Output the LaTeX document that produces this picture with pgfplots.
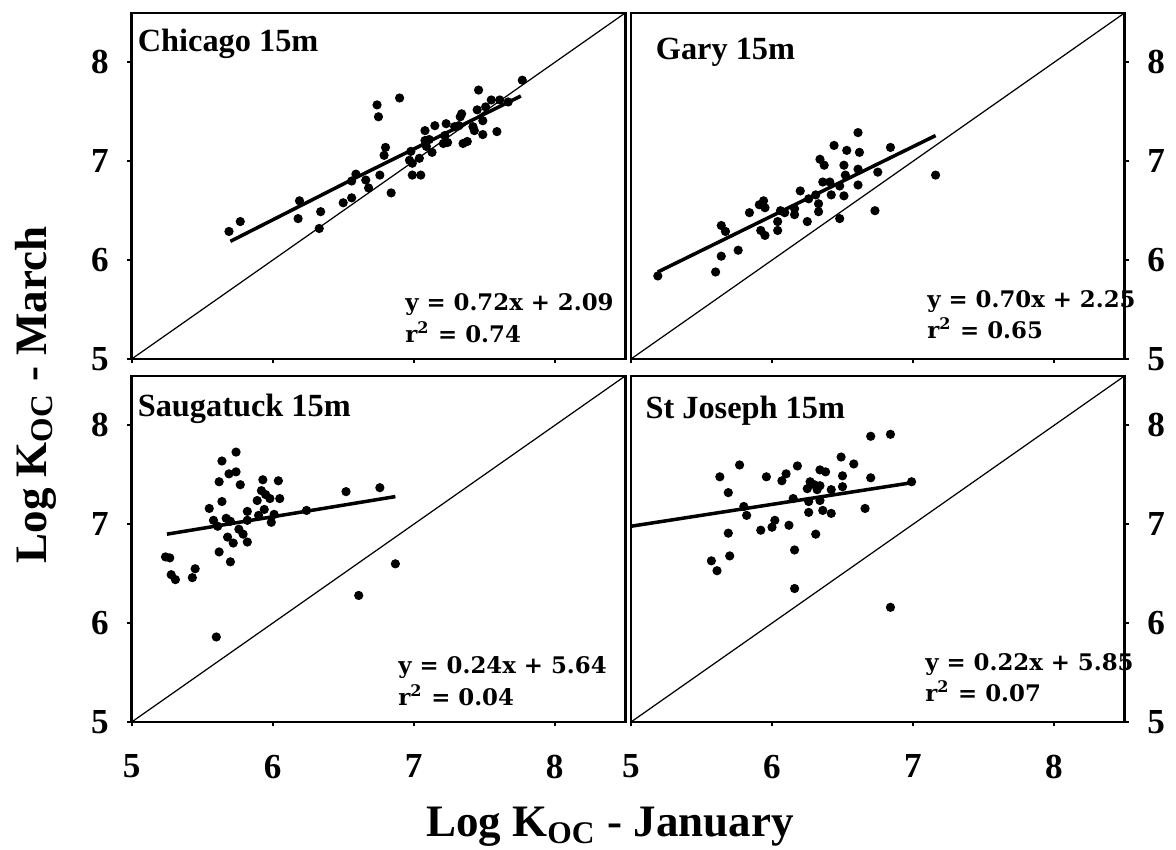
\documentclass[border=0pt]{standalone}
\usepackage{fontspec}
\setmainfont{Liberation Serif}
\newfontfamily\eqfont{DejaVu Serif}
\usepackage{pgfplots}
\pgfplotsset{compat=1.18}

% text styles
\newcommand{\eqfmt}{\eqfont\bfseries\fontsize{6.5}{7}\selectfont}
\newcommand{\ttlfmt}{\bfseries\fontsize{9.2}{10}\selectfont}
\newcommand{\labfmt}{\bfseries\fontsize{12.8}{14}\selectfont}

\tikzset{txt/.style={anchor=base west, inner sep=0pt}}

\pgfplotsset{
  panel/.style={
    scale only axis, width=49.35mm, height=34.6mm, anchor=south west,
    xmin=5, xmax=8.5, ymin=5, ymax=8.5,
    xtick={5,6,7,8}, ytick={5,6,7,8},
    tick align=outside, xtick pos=bottom,
    major tick length=0.45mm,
    axis line style={line width=0.8pt},
    tick style={black, line width=0.6pt},
    ticklabel style={font=\bfseries\fontsize{10}{12}\selectfont},
    xticklabel style={yshift=-1.6mm},
    /pgf/number format/assume math mode=true,
    clip=false,
  },
  left panel/.style={ytick pos=left, yticklabel style={xshift=-0.6mm}},
  right panel/.style={ytick pos=right, yticklabel pos=right, yticklabel style={xshift=0.6mm}},
  top panel/.style={xticklabel=\empty},
  diag/.style={black, line width=0.35pt},
  fit/.style={black, line width=1pt},
  dots/.style={only marks, mark=*, mark size=1.1pt, black},
}

\begin{document}
\begin{tikzpicture}
\useasboundingbox (0,0) rectangle (117.6mm,85mm);

% Chicago
\begin{axis}[panel, left panel, top panel, at={(13.17mm,49.1mm)}]
\addplot[diag] coordinates {(5,5) (8.5,8.5)};
\addplot[dots] coordinates {
(5.69,6.29) (5.77,6.39) (6.19,6.60) (6.18,6.42) (6.34,6.49) (6.33,6.32)
(6.50,6.58) (6.56,6.63) (6.56,6.80) (6.59,6.87) (6.66,6.81) (6.68,6.73)
(6.76,6.86) (6.74,7.57) (6.75,7.45) (6.80,7.14) (6.79,7.06) (6.84,6.68)
(6.90,7.64) (6.98,7.10) (6.97,7.01) (6.99,6.98) (6.99,6.86) (7.05,6.86)
(7.04,7.03) (7.08,7.31) (7.08,7.21) (7.11,7.22) (7.09,7.15) (7.13,7.09)
(7.15,7.36) (7.23,7.38) (7.22,7.26) (7.24,7.19) (7.21,7.18) (7.29,7.35)
(7.33,7.45) (7.34,7.48) (7.32,7.36) (7.35,7.18) (7.38,7.20) (7.42,7.35)
(7.43,7.31) (7.45,7.52) (7.46,7.72) (7.49,7.41) (7.49,7.27) (7.51,7.55)
(7.55,7.62) (7.61,7.62) (7.59,7.30) (7.67,7.60) (7.77,7.82)};
\addplot[fit] coordinates {(5.70,6.19) (6.57,6.82) (7.76,7.66)};
\node[txt, font=\ttlfmt] at (rel axis cs:0.011,0.89) {Chicago 15m};
\node[txt, font=\eqfmt] at (rel axis cs:0.553,0.14) {y = 0.72x + 2.09};
\node[txt, font=\eqfmt] at (rel axis cs:0.553,0.047) {r\textsuperscript{2} = 0.74};
\end{axis}

% Gary
\begin{axis}[panel, right panel, top panel, at={(63.1mm,49.1mm)}]
\addplot[diag] coordinates {(5,5) (8.5,8.5)};
\addplot[dots] coordinates {
(5.19,5.84) (5.60,5.88) (5.64,6.04) (5.64,6.35) (5.67,6.29) (5.76,6.10)
(5.84,6.48) (5.91,6.56) (5.94,6.60) (5.95,6.53) (5.92,6.30) (5.95,6.25)
(6.04,6.39) (6.04,6.30) (6.06,6.50) (6.09,6.48) (6.16,6.46) (6.16,6.52)
(6.20,6.70) (6.25,6.39) (6.26,6.62) (6.31,6.66) (6.33,6.57) (6.33,6.49)
(6.34,7.02) (6.37,6.96) (6.36,6.79) (6.41,6.79) (6.42,6.66) (6.44,7.16)
(6.48,6.75) (6.48,6.42) (6.51,6.96) (6.52,6.86) (6.51,6.65) (6.53,7.11)
(6.61,7.29) (6.62,7.09) (6.61,6.92) (6.61,6.76) (6.73,6.50) (6.75,6.89)
(6.84,7.14) (7.16,6.86)};
\addplot[fit] coordinates {(5.19,5.88) (7.16,7.26)};
\node[txt, font=\ttlfmt] at (rel axis cs:0.049,0.866) {Gary 15m};
\node[txt, font=\eqfmt] at (rel axis cs:0.599,0.15) {y = 0.70x + 2.25};
\node[txt, font=\eqfmt] at (rel axis cs:0.599,0.06) {r\textsuperscript{2} = 0.65};
\end{axis}

% Saugatuck
\begin{axis}[panel, left panel, at={(13.17mm,12.8mm)}]
\addplot[diag] coordinates {(5,5) (8.5,8.5)};
\addplot[dots] coordinates {
(5.24,6.67) (5.27,6.66) (5.28,6.49) (5.31,6.44) (5.43,6.46) (5.45,6.55)
(5.60,5.86) (5.55,7.16) (5.58,7.04) (5.62,6.72) (5.62,7.43) (5.64,7.64)
(5.64,7.23) (5.67,7.06) (5.61,6.98) (5.69,7.51) (5.74,7.73) (5.74,7.53)
(5.77,7.40) (5.70,7.03) (5.68,6.87) (5.72,6.81) (5.70,6.62) (5.76,6.95)
(5.79,6.90) (5.82,6.82) (5.82,7.13) (5.82,7.04) (5.89,7.24) (5.90,7.09)
(5.93,7.45) (5.92,7.34) (5.94,7.15) (5.95,7.30) (5.98,7.26) (5.99,7.02)
(6.01,7.10) (6.04,7.44) (6.05,7.26) (6.24,7.14) (6.52,7.33) (6.76,7.37)
(6.61,6.28) (6.87,6.60)};
\addplot[fit] coordinates {(5.25,6.90) (6.87,7.28)};
\node[txt, font=\ttlfmt] at (rel axis cs:0.011,0.882) {Saugatuck 15m};
\node[txt, font=\eqfmt] at (rel axis cs:0.539,0.14) {y = 0.24x + 5.64};
\node[txt, font=\eqfmt] at (rel axis cs:0.539,0.047) {r\textsuperscript{2} = 0.04};
\end{axis}

% St Joseph
\begin{axis}[panel, right panel, at={(63.1mm,12.8mm)}]
\addplot[diag] coordinates {(5,5) (8.5,8.5)};
\addplot[dots] coordinates {
(5.57,6.63) (5.61,6.53) (5.63,7.48) (5.69,7.32) (5.69,6.91) (5.70,6.68)
(5.77,7.60) (5.80,7.18) (5.82,7.09) (5.92,6.94) (5.96,7.48) (6.00,6.97)
(6.02,7.04) (6.07,7.44) (6.10,7.51) (6.12,6.99) (6.15,7.26) (6.16,6.74)
(6.16,6.35) (6.18,7.59) (6.25,7.36) (6.26,7.23) (6.26,7.12) (6.27,7.43)
(6.30,7.40) (6.31,6.90) (6.34,7.55) (6.34,7.39) (6.34,7.24) (6.36,7.14)
(6.38,7.53) (6.32,7.35) (6.42,7.35) (6.42,7.11) (6.49,7.68) (6.50,7.49)
(6.50,7.38) (6.58,7.61) (6.66,7.16) (6.70,7.89) (6.70,7.47) (6.84,6.16)
(6.84,7.91) (6.99,7.43)};
\addplot[fit] coordinates {(5.0,6.98) (6.99,7.42)};
\node[txt, font=\ttlfmt] at (rel axis cs:0.028,0.878) {St Joseph 15m};
\node[txt, font=\eqfmt] at (rel axis cs:0.595,0.15) {y = 0.22x + 5.85};
\node[txt, font=\eqfmt] at (rel axis cs:0.595,0.06) {r\textsuperscript{2} = 0.07};
\end{axis}

\node[rotate=90, font=\labfmt] at (3.6mm,45.5mm) {Log K\textsubscript{OC} - March};
\node[anchor=base, font=\labfmt] at (61mm,1.3mm) {Log K\textsubscript{OC} - January};
\end{tikzpicture}
\end{document}
